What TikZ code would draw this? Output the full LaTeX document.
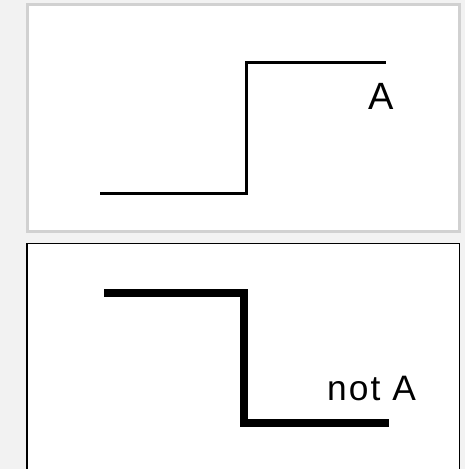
\documentclass[tikz,border=0pt]{standalone}
\usepackage{fontspec}
\setmainfont{Liberation Sans}
\begin{document}
\begin{tikzpicture}[x=0.75pt,y=-0.75pt,
  panelA/.style={fill=white,draw=black!18,line width=2.3pt},
  panelB/.style={fill=white,draw=black,line width=1.2pt},
  thinwave/.style={line width=2.5pt,line join=miter,line cap=butt},
  thickwave/.style={line width=6pt,line join=miter,line cap=butt},
  lbl/.style={inner sep=0pt,anchor=base}]
\useasboundingbox (0,0) rectangle (465,469);
\fill[black!5] (0,0) rectangle (465,469);
\begin{scope}
\clip (0,0) rectangle (465,469);
\draw[panelA] (27.5,4.5) rectangle (459.5,231.5);
\draw[panelB] (27,243.5) rectangle (459.3,480);
\end{scope}
% top step
\draw[thinwave] (100,193.3) -- (246.7,193.3) -- (246.7,62.7) -- (386,62.7);
\node[lbl,font=\fontsize{28.5pt}{30pt}\selectfont] (a) at (381.5,109.5) {A};
% bottom step
\draw[thickwave] (104,293) -- (244,293) -- (244,423.3) -- (389,423.3);
\node[lbl,font=\fontsize{26.5pt}{30pt}\selectfont] (na) at (371.5,400.5) {\addfontfeature{LetterSpace=6}not A};
\end{tikzpicture}
\end{document}
